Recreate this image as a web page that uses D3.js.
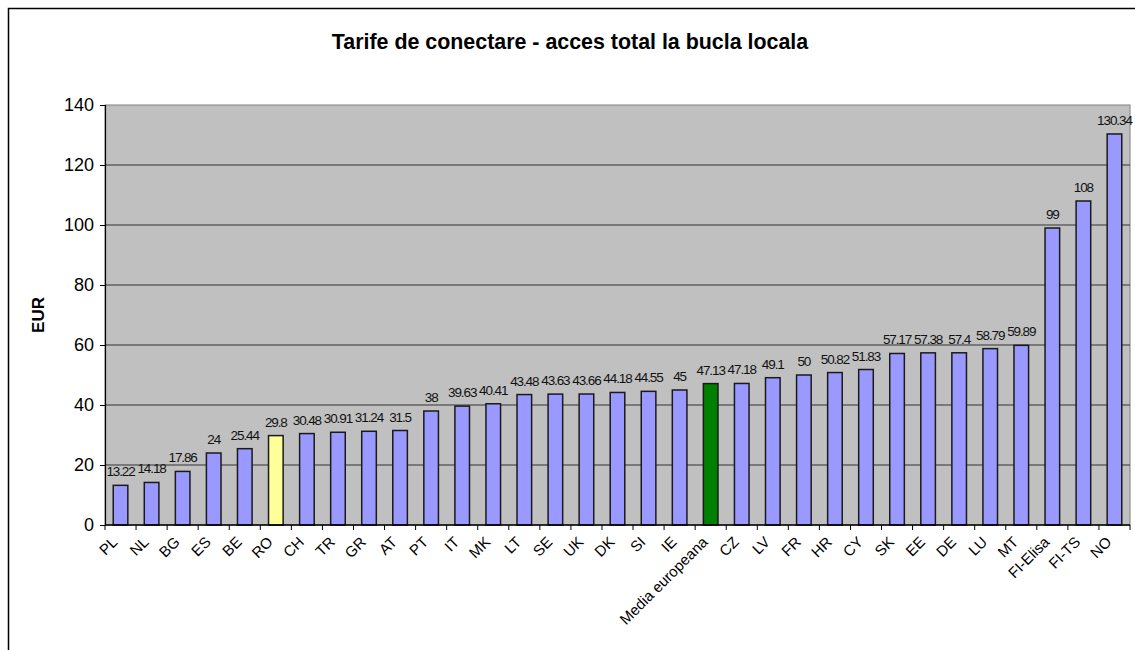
<!DOCTYPE html>
<html>
<head>
<meta charset="utf-8">
<script src="https://cdn.jsdelivr.net/npm/d3@7"></script>
<style>
    body { margin: 0; background: #fff; }
    text { font-family: 'Liberation Sans', Arial, sans-serif; }
</style>
</head>
<body>
<div id="chart"></div>
<script>
// data
const countries = ['PL', 'NL', 'BG', 'ES', 'BE', 'RO', 'CH', 'TR', 'GR', 'AT', 'PT', 'IT', 'MK', 'LT', 'SE', 'UK', 'DK', 'SI', 'IE',
    'Media europeana', 'CZ', 'LV', 'FR', 'HR', 'CY', 'SK', 'EE', 'DE', 'LU', 'MT', 'FI-Elisa', 'FI-TS', 'NO'];
const tariffs = [13.22, 14.18, 17.86, 24, 25.44, 29.8, 30.48, 30.91, 31.24, 31.5, 38, 39.63, 40.41, 43.48, 43.63, 43.66, 44.18, 44.55, 45,
    47.13, 47.18, 49.1, 50, 50.82, 51.83, 57.17, 57.38, 57.4, 58.79, 59.89, 99, 108, 130.34];
const yTicks = [0, 20, 40, 60, 80, 100, 120, 140];
const highlight = { RO: '#FFFF99', 'Media europeana': '#008000' };

const width = 1135;
const height = 650;
const marginLeft = 105;
const marginRight = 5;
const marginTop = 105;
const marginBottom = 125;
const innerW = width - marginLeft - marginRight;
const innerH = height - marginTop - marginBottom;

const data = countries.map((c, i) => ({ name: c, value: tariffs[i] }));

const $svg = d3.select('#chart').append('svg')
    .attr('width', width)
    .attr('height', height);

// outer chart border
$svg.append('rect')
    .attr('x', 8.5).attr('y', 8.5)
    .attr('width', width + 20).attr('height', height + 20)
    .attr('fill', 'none').attr('stroke', '#000').attr('stroke-width', 1.5);

$svg.append('text')
    .attr('x', 570).attr('y', 49)
    .attr('text-anchor', 'middle')
    .attr('font-size', 21.4)
    .attr('font-weight', 'bold')
    .text('Tarife de conectare - acces total la bucla locala');

const $g = $svg.append('g').attr('transform', `translate(${marginLeft}, ${marginTop})`);

const scaleX = d3.scaleBand().domain(countries).range([0, innerW]).paddingInner(0.53).paddingOuter(0.265);
const scaleY = d3.scaleLinear().domain([0, 140]).range([innerH, 0]);

// plot area
$g.append('rect')
    .attr('width', innerW).attr('height', innerH)
    .attr('fill', '#C0C0C0').attr('stroke', '#808080');

// gridlines
$g.append('g').selectAll('line')
    .data(yTicks.filter(d => d > 0 && d < 140))
    .join('line')
    .attr('x1', 0).attr('x2', innerW)
    .attr('y1', d => scaleY(d)).attr('y2', d => scaleY(d))
    .attr('stroke', '#333').attr('stroke-width', 1);

// bars
$g.append('g').selectAll('rect')
    .data(data)
    .join('rect')
    .attr('x', d => scaleX(d.name))
    .attr('y', d => scaleY(d.value))
    .attr('width', scaleX.bandwidth())
    .attr('height', d => innerH - scaleY(d.value))
    .attr('fill', d => highlight[d.name] || '#9999FF')
    .attr('stroke', '#1a1a1a').attr('stroke-width', 1.5);

// value labels
$g.append('g').selectAll('text')
    .data(data)
    .join('text')
    .attr('x', d => scaleX(d.name) + scaleX.bandwidth() / 2)
    .attr('y', d => scaleY(d.value) - 9)
    .attr('text-anchor', 'middle')
    .attr('font-size', 13.5)
    .attr('letter-spacing', '-1.1px')
    .attr('fill', '#111')
    .text(d => d.value);

// y axis
const $yAxis = $g.append('g')
    .call(d3.axisLeft(scaleY).tickValues(yTicks).tickSize(5).tickPadding(6));
$yAxis.select('.domain').attr('stroke', '#000').attr('stroke-width', 1.2);
$yAxis.selectAll('text').attr('font-size', 18).attr('fill', '#000').attr('font-family', "'Liberation Sans', Arial, sans-serif");

// x axis: ticks at category boundaries
const step = scaleX.step();
const $xAxis = $g.append('g').attr('transform', `translate(0, ${innerH})`);
$xAxis.append('line')
    .attr('x1', 0).attr('x2', innerW)
    .attr('stroke', '#000').attr('stroke-width', 1.5);
$xAxis.selectAll('line.tick')
    .data(d3.range(countries.length + 1))
    .join('line')
    .attr('class', 'tick')
    .attr('x1', i => i * step).attr('x2', i => i * step)
    .attr('y1', 0).attr('y2', 5)
    .attr('stroke', '#000');
$xAxis.selectAll('text')
    .data(countries)
    .join('text')
    .attr('transform', d => `translate(${scaleX(d) + scaleX.bandwidth() / 2 - 2}, 18) rotate(-45)`)
    .attr('text-anchor', 'end')
    .attr('font-size', 15)
    .text(d => d);

// y label
$svg.append('text')
    .attr('transform', 'translate(44, 315) rotate(-90)')
    .attr('text-anchor', 'middle')
    .attr('font-size', 17)
    .attr('font-weight', 'bold')
    .text('EUR');
</script>
</body>
</html>
